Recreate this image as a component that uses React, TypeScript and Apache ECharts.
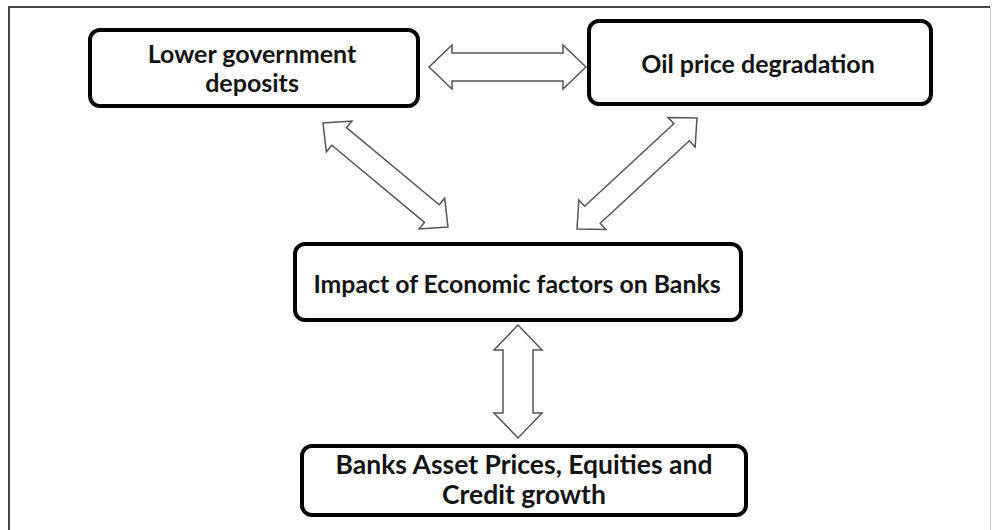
import React, { useEffect, useRef } from "react";
import * as echarts from "echarts";

// Boxes: [left, top, width, height] (outer edges) and their text lines
const boxLabels: string[][] = [
  ["Lower government", "deposits"],
  ["Oil price degradation"],
  ["Impact of Economic factors on Banks"],
  ["Banks Asset Prices, Equities and", "Credit growth"],
];
const boxRects: number[][] = [
  [88, 28, 332, 80],
  [587, 19, 346, 87],
  [293, 242, 450, 80],
  [300, 444, 448, 73],
];
const boxTextCenters: number[][] = [
  [252, 53, 29],
  [758, 63, 0],
  [517, 283, 0],
  [524, 464, 30],
];
const boxFontSizes: number[] = [25, 25, 24.8, 26.5];

// Double arrows: [x1, y1, x2, y2, shaftHalf, headHalf, headLen]
const arrows: number[][] = [
  [429, 67, 586, 67, 14, 22, 23],
  [323, 123, 448, 227, 11.5, 20, 21],
  [697, 118, 577, 229, 11.5, 20, 21],
  [518, 325, 518, 438, 15, 24, 25],
];

function arrowPoints(a: number[]): number[][] {
  const [x1, y1, x2, y2, s, h, L] = a;
  const dx = x2 - x1, dy = y2 - y1;
  const len = Math.hypot(dx, dy);
  const ux = dx / len, uy = dy / len;
  const nx = -uy, ny = ux;
  const p = (bx: number, by: number, t: number, w: number) => [bx + ux * t + nx * w, by + uy * t + ny * w];
  return [
    [x1, y1],
    p(x1, y1, L, h),
    p(x1, y1, L, s),
    p(x2, y2, -L, s),
    p(x2, y2, -L, h),
    [x2, y2],
    p(x2, y2, -L, -h),
    p(x2, y2, -L, -s),
    p(x1, y1, L, -s),
    p(x1, y1, L, -h),
  ];
}

export default function App() {
  const ref = useRef<HTMLDivElement>(null);
  useEffect(() => {
    document.body.style.margin = "0";
    const chart = echarts.init(ref.current!, undefined, { renderer: "svg" });
    const elements: any[] = [];
    // outer frame
    elements.push({
      type: "line",
      shape: { x1: 9, y1: 7, x2: 990, y2: 7 },
      style: { stroke: "#444", lineWidth: 2 },
    });
    elements.push({
      type: "line",
      shape: { x1: 9, y1: 6, x2: 9, y2: 530 },
      style: { stroke: "#444", lineWidth: 2 },
    });
    elements.push({
      type: "line",
      shape: { x1: 990.5, y1: 7, x2: 990.5, y2: 530 },
      style: { stroke: "#c8c8c8", lineWidth: 1 },
    });
    arrows.forEach((a) => {
      elements.push({
        type: "polygon",
        shape: { points: arrowPoints(a) },
        style: { fill: "#fff", stroke: "#555", lineWidth: 1.5, lineJoin: "miter" },
      });
    });
    boxRects.forEach((r, i) => {
      elements.push({
        type: "rect",
        shape: { x: r[0] + 2, y: r[1] + 2, width: r[2] - 4, height: r[3] - 4, r: 10 },
        style: { fill: "#fff", stroke: "#000", lineWidth: 4 },
      });
      const [cx, cy, lh] = boxTextCenters[i];
      boxLabels[i].forEach((line, j) => {
        elements.push({
          type: "text",
          x: cx,
          y: cy + j * lh,
          style: {
            text: line,
            fill: "#141414",
            font: `bold ${boxFontSizes[i]}px Lato`,
            align: "center",
            verticalAlign: "middle",
          },
        });
      });
    });
    chart.setOption({
      animation: false,
      backgroundColor: "#fff",
      graphic: { elements },
    });
    return () => chart.dispose();
  }, []);
  return <div ref={ref} style={{ width: 992, height: 530, position: "absolute", left: 0, top: 0 }} />;
}
